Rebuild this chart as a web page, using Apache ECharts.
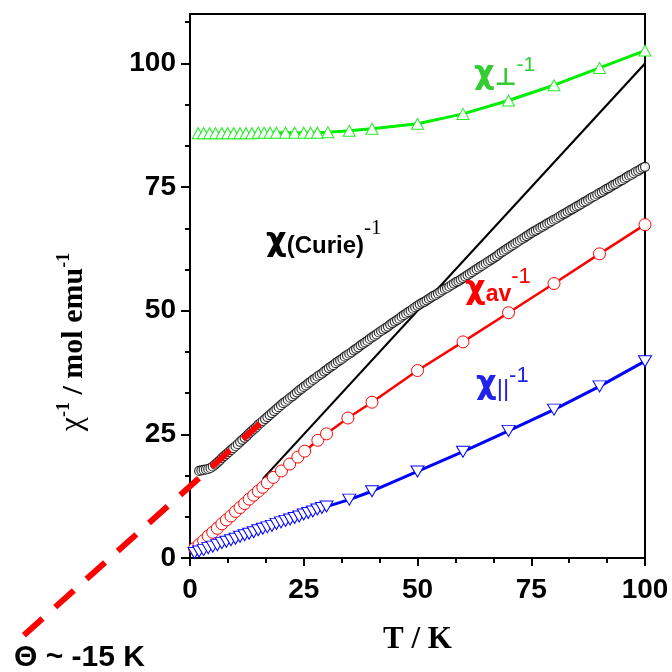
<!DOCTYPE html>
<html><head><meta charset="utf-8">
<script src="https://cdn.jsdelivr.net/npm/echarts@6/dist/echarts.min.js"></script>
<style>html,body{margin:0;padding:0;background:#fff}#c{width:672px;height:672px}</style>
</head><body><div id="c"></div>
<script>
// chi_perp^-1 (green, up triangles)
const chiPerp = [[1.8,85.9],[3,85.9],[4.3,85.9],[5.6,85.9],[7,85.9],[8.3,85.9],[9.6,85.9],[11,85.9],[12.3,85.9],[13.6,85.9],[15,86.0],[16.3,86.0],[17.6,86.0],[19,86.0],[21,86.0],[23,86.0],[25,86.0],[26.5,86.0],[28,86.0],[30.3,86.1],[35,86.4],[40,86.8],[50,87.8],[60,89.8],[70,92.5],[80,95.6],[90,99.1],[100,102.6]];
// chi_av^-1 (red circles)
const chiAv = [[1,1.9],[2,2.7],[3,3.5],[4,4.4],[5,5.2],[6,6.0],[7,6.9],[8,7.7],[9,8.5],[10,9.4],[11,10.2],[12,11.0],[13,11.9],[14,12.7],[15,13.5],[16,14.3],[17,15.2],[18.3,16.3],[20.1,17.6],[21.9,19.0],[23.7,20.4],[25.2,21.6],[28.1,23.8],[30,25.1],[34.7,28.3],[40,31.5],[50,37.9],[60,43.7],[70,49.6],[80,55.5],[90,61.5],[100,67.4]];
// chi_par^-1 (blue, down triangles)
const chiPar = [[1,1.0],[2,1.3],[3,1.6],[4,2.0],[5,2.3],[6,2.6],[7,3.0],[8,3.3],[9,3.6],[10,3.9],[11,4.3],[12,4.6],[13,4.9],[14,5.2],[15,5.6],[16,5.9],[17,6.2],[18,6.5],[19,6.9],[20,7.2],[21,7.5],[22,7.8],[23,8.1],[24,8.4],[25,8.8],[26,9.1],[27,9.4],[28,9.8],[29,10.1],[30,10.4],[35,11.8],[40,13.5],[50,17.5],[60,21.5],[70,25.7],[80,30.0],[90,34.7],[100,39.8]];
// measured chi^-1 (black open circles)
const chiMeasured = [[2,17.6],[2.5,17.7],[3,17.8],[3.5,17.9],[4,18.0],[4.5,18.2],[5,18.5],[5.5,18.9],[6,19.3],[6.5,19.7],[7,20.2],[7.5,20.6],[8,21.0],[8.5,21.4],[9,21.8],[9.5,22.2],[10,22.6],[10.5,23.0],[11,23.5],[11.5,23.9],[12,24.3],[12.5,24.7],[13,25.2],[13.5,25.6],[14,26.0],[14.5,26.4],[15,26.9],[15.5,27.3],[16,27.7],[16.5,28.1],[17,28.5],[17.5,28.9],[18,29.3],[18.5,29.7],[19,30.1],[19.5,30.5],[20,30.9],[20.5,31.3],[21,31.6],[21.5,32.0],[22,32.4],[22.5,32.7],[23,33.1],[23.5,33.5],[24,33.9],[24.5,34.2],[25,34.6],[25.5,34.9],[26,35.3],[26.5,35.6],[27,36.0],[27.5,36.3],[28,36.7],[28.5,37.0],[29,37.3],[29.5,37.7],[30,38.0],[30.5,38.4],[31,38.7],[31.5,39.0],[32,39.4],[32.5,39.7],[33,40.0],[33.5,40.3],[34,40.7],[34.5,41.0],[35,41.3],[35.5,41.6],[36,42.0],[36.5,42.3],[37,42.6],[37.5,43.0],[38,43.3],[38.5,43.6],[39,43.9],[39.5,44.3],[40,44.6],[40.5,44.9],[41,45.2],[41.5,45.6],[42,45.9],[42.5,46.2],[43,46.5],[43.5,46.8],[44,47.2],[44.5,47.5],[45,47.8],[45.5,48.1],[46,48.4],[46.5,48.8],[47,49.1],[47.5,49.4],[48,49.7],[48.5,50.0],[49,50.4],[49.5,50.7],[50,51.0],[50.5,51.3],[51,51.6],[51.5,51.8],[52,52.1],[52.5,52.4],[53,52.7],[53.5,53.0],[54,53.2],[54.5,53.5],[55,53.8],[55.5,54.1],[56,54.4],[56.5,54.6],[57,54.9],[57.5,55.2],[58,55.5],[58.5,55.8],[59,56.0],[59.5,56.3],[60,56.6],[60.5,56.9],[61,57.2],[61.5,57.5],[62,57.8],[62.5,58.1],[63,58.4],[63.5,58.7],[64,59.0],[64.5,59.3],[65,59.6],[65.5,59.9],[66,60.2],[66.5,60.5],[67,60.8],[67.5,61.1],[68,61.5],[68.5,61.8],[69,62.1],[69.5,62.4],[70,62.7],[70.5,63.0],[71,63.3],[71.5,63.6],[72,63.9],[72.5,64.2],[73,64.5],[73.5,64.8],[74,65.1],[74.5,65.4],[75,65.7],[75.5,66.0],[76,66.2],[76.5,66.5],[77,66.8],[77.5,67.0],[78,67.3],[78.5,67.6],[79,67.8],[79.5,68.1],[80,68.4],[80.5,68.6],[81,68.9],[81.5,69.2],[82,69.5],[82.5,69.7],[83,70.0],[83.5,70.3],[84,70.5],[84.5,70.8],[85,71.1],[85.5,71.3],[86,71.6],[86.5,71.9],[87,72.1],[87.5,72.4],[88,72.7],[88.5,73.0],[89,73.2],[89.5,73.5],[90,73.8],[90.5,74.0],[91,74.3],[91.5,74.6],[92,74.8],[92.5,75.1],[93,75.4],[93.5,75.6],[94,75.9],[94.5,76.2],[95,76.4],[95.5,76.7],[96,77.0],[96.5,77.3],[97,77.5],[97.5,77.8],[98,78.1],[98.5,78.3],[99,78.6],[99.5,78.9],[100,79.1]];
// Curie law line chi^-1 = T
const curieLine = [[16,16],[100,100]];
// Curie-Weiss extrapolation, Theta ~ -15 K
const weissFit = [[-36.5,-15.6],[15.4,27.2]];
// axis ticks
const xTickLabels = [0,25,50,75,100];
const yTickLabels = [0,25,50,75,100];
const yMinorTicks = [8.333,16.667,33.333,41.667,58.333,66.667,83.333,91.667,108.333];

const SANS = 'Arial, "Liberation Sans", sans-serif';
const CHI = '"DejaVu Sans", sans-serif';
const SERIF = '"Times New Roman", "Liberation Serif", serif';

// overlay axes for the extrapolated fit: same scale as the main plot, wider range
const ovX = [-40, 100];
const ovY = [-20, 110];
const ovLeft = 190 - 40 * 4.55;
const ovBottom = 672 - (558 + 20 * (544 / 110));

const chart = echarts.init(document.getElementById('c'), null, {renderer:'canvas'});
chart.setOption({
  animation: false,
  backgroundColor: '#fff',
  grid: [
    {left:190, right:27, top:14, bottom:114, show:true, borderColor:'#000', borderWidth:2, backgroundColor:'transparent'},
    {left:ovLeft, right:27, top:14, bottom:ovBottom, show:false}
  ],
  xAxis: [{
    type:'value', min:0, max:100, interval:25, gridIndex:0,
    axisLine:{show:true, lineStyle:{color:'#000', width:2}},
    axisTick:{show:true, length:8, lineStyle:{color:'#000', width:2}},
    minorTick:{show:true, splitNumber:3, length:5, lineStyle:{color:'#000', width:2}},
    splitLine:{show:false}, minorSplitLine:{show:false},
    axisLabel:{margin:18, color:'#000', fontSize:28, fontWeight:'bold', fontFamily:SANS,
      formatter: v => xTickLabels.indexOf(v) >= 0 ? String(v) : ''},
    name:'T / K', nameLocation:'middle', nameGap:66,
    nameTextStyle:{color:'#000', fontSize:31, fontWeight:'bold', fontFamily:SERIF}
  },{
    type:'value', min:ovX[0], max:ovX[1], gridIndex:1, show:false
  }],
  yAxis: [{
    type:'value', min:0, max:110, gridIndex:0,
    axisLine:{show:true, lineStyle:{color:'#000', width:2}},
    axisTick:{show:true, length:9, customValues: yTickLabels, lineStyle:{color:'#000', width:2}},
    splitLine:{show:false},
    axisLabel:{margin:14, color:'#000', fontSize:28, fontWeight:'bold', fontFamily:SANS, customValues: yTickLabels}
  },{
    type:'value', min:0, max:110, position:'left', gridIndex:0,
    axisLine:{show:false}, axisLabel:{show:false}, splitLine:{show:false},
    axisTick:{show:true, length:5, customValues: yMinorTicks, lineStyle:{color:'#000', width:2}}
  },{
    type:'value', min:ovY[0], max:ovY[1], gridIndex:1, show:false
  }],
  series: [
    {type:'line', name:'Curie', data:curieLine, symbol:'none', z:2,
     lineStyle:{color:'#000', width:2.2}},
    {type:'scatter', name:'measured', data:chiMeasured, symbol:'circle', symbolSize:9, z:3,
     itemStyle:{color:'#fff', borderColor:'#000', borderWidth:1.2}},
    {type:'line', name:'fit', data:weissFit, xAxisIndex:1, yAxisIndex:2, symbol:'none', clip:false, z:4,
     lineStyle:{color:'#ff0000', width:6, type:[25,17], cap:'butt'}},
    {type:'line', name:'perp', data:chiPerp, symbol:'triangle', symbolSize:[12,11], showAllSymbol:true, z:5,
     lineStyle:{color:'#00ee00', width:3}, itemStyle:{color:'#fff', borderColor:'#22ee22', borderWidth:1}},
    {type:'line', name:'av', data:chiAv, symbol:'circle', symbolSize:12, showAllSymbol:true, z:5,
     lineStyle:{color:'#ff0000', width:2.5}, itemStyle:{color:'#fff', borderColor:'#ff0000', borderWidth:1}},
    {type:'line', name:'par', data:chiPar, symbol:'triangle', symbolRotate:180, symbolSize:[13,11], showAllSymbol:true, z:5,
     lineStyle:{color:'#0000ff', width:3}, itemStyle:{color:'#fff', borderColor:'#0000ff', borderWidth:1}}
  ],
  graphic: [
    {type:'text', x:72, y:342, rotation:Math.PI/2, z:10, style:{
      text:'{c|χ}{s|-1}{t| / mol emu}{s|-1}', align:'center', verticalAlign:'middle',
      rich:{
        c:{fill:'#000', fontSize:32, fontFamily:SERIF, lineHeight:34, verticalAlign:'bottom'},
        s:{fill:'#000', fontSize:18, fontFamily:SERIF, fontWeight:'bold', lineHeight:34, verticalAlign:'top'},
        t:{fill:'#000', fontSize:30, fontFamily:SERIF, fontWeight:'bold', lineHeight:34, verticalAlign:'bottom'}
      }}},
    {type:'text', left:474, top:55, z:10, style:{
      text:'{x|χ}{s|⊥}{p|-1}',
      rich:{
        x:{fill:'#33cc33', fontSize:32, fontWeight:'bold', fontFamily:CHI, lineHeight:36, verticalAlign:'bottom'},
        s:{fill:'#33cc33', fontSize:24, fontWeight:'bold', fontFamily:CHI, lineHeight:36, verticalAlign:'bottom'},
        p:{fill:'#33cc33', fontSize:21, fontFamily:SANS, lineHeight:36, verticalAlign:'top'}
      }}},
    {type:'text', left:266, top:218, z:10, style:{
      text:'{x|χ}{s|(Curie)}{p|-1}',
      rich:{
        x:{fill:'#000', fontSize:32, fontWeight:'bold', fontFamily:CHI, lineHeight:40, verticalAlign:'bottom'},
        s:{fill:'#000', fontSize:24, fontWeight:'bold', fontFamily:SANS, lineHeight:40, verticalAlign:'bottom'},
        p:{fill:'#000', fontSize:21, fontFamily:SERIF, lineHeight:40, verticalAlign:'top'}
      }}},
    {type:'text', left:465, top:266, z:10, style:{
      text:'{x|χ}{s|av}{p|-1}',
      rich:{
        x:{fill:'#ff0000', fontSize:32, fontWeight:'bold', fontFamily:CHI, lineHeight:40, verticalAlign:'bottom'},
        s:{fill:'#ff0000', fontSize:23, fontWeight:'bold', fontFamily:SANS, lineHeight:40, verticalAlign:'bottom'},
        p:{fill:'#ff0000', fontSize:22, fontFamily:SANS, lineHeight:40, verticalAlign:'top'}
      }}},
    {type:'text', left:476, top:365, z:10, style:{
      text:'{x|χ}{s|||}{p|-1}',
      rich:{
        x:{fill:'#2222ee', fontSize:32, fontWeight:'bold', fontFamily:CHI, lineHeight:36, verticalAlign:'bottom'},
        s:{fill:'#2222ee', fontSize:24, fontFamily:SANS, lineHeight:36, verticalAlign:'bottom'},
        p:{fill:'#2222ee', fontSize:22, fontFamily:SANS, lineHeight:36, verticalAlign:'top'}
      }}},
    {type:'text', left:14, top:643, z:10, style:{
      text:'Θ ~ -15 K', fill:'#000', font:'bold 30px ' + SANS}}
  ]
});
</script></body></html>
